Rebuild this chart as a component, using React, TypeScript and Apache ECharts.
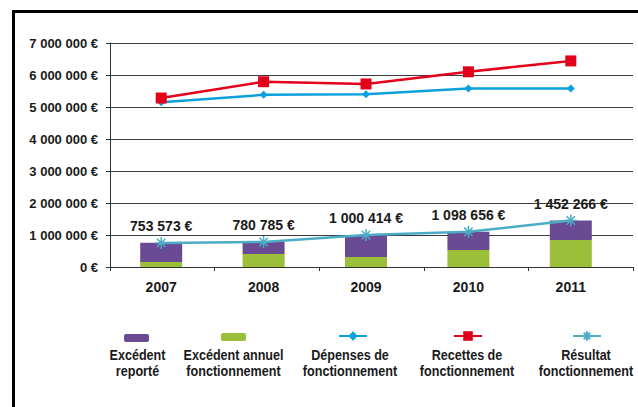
import React, { useEffect, useRef } from "react";
import * as echarts from "echarts";

const categories = ["2007", "2008", "2009", "2010", "2011"];
const excedentReporte = [594000, 371000, 690000, 569000, 612000];
const excedentAnnuel = [160000, 410000, 310000, 530000, 840000];
const depenses = [5150000, 5380000, 5400000, 5580000, 5580000];
const recettes = [5280000, 5790000, 5720000, 6100000, 6440000];
const resultat = [753573, 780785, 1000414, 1098656, 1452266];
const yTicks = [0, 1000000, 2000000, 3000000, 4000000, 5000000, 6000000, 7000000];

const names = {
  rep: "Excédent reporté",
  ann: "Excédent annuel fonctionnement",
  dep: "Dépenses de fonctionnement",
  rec: "Recettes de fonctionnement",
  res: "Résultat fonctionnement",
};
const legendLabels = [
  { name: names.rep, text: "Excédent\nreporté", cx: 137.5, left: 124, top: 334, w: 25, h: 8 },
  { name: names.ann, text: "Excédent annuel\nfonctionnement", cx: 233.5, left: 221, top: 333, w: 25, h: 8 },
  { name: names.dep, text: "Dépenses de\nfonctionnement", cx: 350, left: 338, top: 330, w: 28, h: 12 },
  { name: names.rec, text: "Recettes de\nfonctionnement", cx: 467, left: 453, top: 330, w: 28, h: 12 },
  { name: names.res, text: "Résultat\nfonctionnement", cx: 586, left: 572, top: 330, w: 28, h: 12 },
];

const FONT = "'Liberation Sans', Arial, Helvetica, sans-serif";
const fmt = (v: number) =>
  String(Math.round(v)).replace(/\B(?=(\d{3})+(?!\d))/g, " ") + " €";

const STAR = "path://M0,5L10,5M5,0L5,10M1.5,1.5L8.5,8.5M8.5,1.5L1.5,8.5";

export default function App() {
  const ref = useRef<HTMLDivElement>(null);
  useEffect(() => {
    if (!ref.current) return;
    const chart = echarts.init(ref.current, undefined, { renderer: "svg" });
    const yMax = yTicks[yTicks.length - 1];
    const yStep = yTicks[1] - yTicks[0];
    chart.setOption({
      animation: false,
      backgroundColor: "#fff",
      textStyle: { fontFamily: FONT },
      grid: [
        { left: 110, right: 5, top: 43, bottom: 140 },
        { left: 110, width: 512, top: 43, bottom: 140 },
      ],
      xAxis: [
        {
          gridIndex: 0,
          type: "category",
          data: categories,
          boundaryGap: true,
          axisLine: { lineStyle: { color: "#333", width: 1 } },
          axisTick: { show: true, length: 4, lineStyle: { color: "#333" } },
          axisLabel: { show: false },
        },
        {
          gridIndex: 1,
          type: "category",
          data: categories,
          boundaryGap: true,
          axisLine: { show: false },
          axisTick: { show: false },
          axisLabel: { margin: 13, fontSize: 14, fontWeight: "bold", color: "#1a1a1a", fontFamily: FONT },
        },
      ],
      yAxis: [
        {
          gridIndex: 0,
          type: "value",
          min: 0,
          max: yMax,
          interval: yStep,
          axisLine: { show: true, lineStyle: { color: "#333" } },
          axisTick: { show: true, length: 4, lineStyle: { color: "#333" } },
          axisLabel: {
            margin: 12,
            fontSize: 13,
            fontWeight: "bold",
            color: "#1a1a1a",
            fontFamily: FONT,
            formatter: (v: number) => fmt(v),
          },
          splitLine: { show: true, lineStyle: { color: "#3c3c3c", width: 1 } },
        },
        {
          gridIndex: 1,
          type: "value",
          min: 0,
          max: yMax,
          interval: yStep,
          show: false,
          splitLine: { show: false },
        },
      ],
      legend: legendLabels.map((l) => ({
        data: [l.name],
        left: l.left,
        top: l.top,
        padding: 0,
        itemWidth: l.w,
        itemHeight: l.h,
        itemGap: 0,
        selectedMode: false,
        formatter: () => "",
        textStyle: { fontSize: 1 },
      })),
      graphic: [
        {
          type: "rect",
          silent: true,
          shape: { x: 13.5, y: 11.5, width: 800, height: 600 },
          style: { fill: "none", stroke: "#000", lineWidth: 3 },
        },
        ...legendLabels.map((l) => ({
          type: "text",
          silent: true,
          x: l.cx,
          y: 347,
          scaleX: 0.9,
          style: {
            text: l.text,
            fontSize: 14,
            fontWeight: "bold",
            lineHeight: 16,
            fontFamily: FONT,
            fill: "#1a1a1a",
            align: "center",
            verticalAlign: "top",
          },
        })),
      ],
      series: [
        {
          name: names.ann,
          type: "bar",
          xAxisIndex: 1,
          yAxisIndex: 1,
          stack: "exc",
          barWidth: 42,
          data: excedentAnnuel,
          itemStyle: { color: "#9BBF3A" },
          legendIcon: "rect",
        },
        {
          name: names.rep,
          type: "bar",
          xAxisIndex: 1,
          yAxisIndex: 1,
          stack: "exc",
          barWidth: 42,
          data: excedentReporte,
          itemStyle: { color: "#6B4A94" },
          legendIcon: "rect",
        },
        {
          name: names.dep,
          type: "line",
          xAxisIndex: 1,
          yAxisIndex: 1,
          data: depenses,
          symbol: "diamond",
          symbolSize: 8,
          lineStyle: { color: "#0AA0DC", width: 2.5 },
          itemStyle: { color: "#0AA0DC" },
        },
        {
          name: names.rec,
          type: "line",
          xAxisIndex: 1,
          yAxisIndex: 1,
          data: recettes,
          symbol: "rect",
          symbolSize: 11,
          lineStyle: { color: "#E2001A", width: 2.5 },
          itemStyle: { color: "#E2001A" },
        },
        {
          name: names.res,
          type: "line",
          xAxisIndex: 1,
          yAxisIndex: 1,
          data: resultat,
          symbol: STAR,
          symbolSize: 12,
          z: 5,
          lineStyle: { color: "#4BACC6", width: 2.5 },
          itemStyle: { color: "#4BACC6", borderColor: "#4BACC6", borderWidth: 1.5 },
          label: {
            show: true,
            position: "top",
            distance: 3,
            fontSize: 14,
            fontWeight: "bold",
            color: "#1a1a1a",
            fontFamily: FONT,
            formatter: (p: any) => fmt(p.value),
          },
        },
      ],
    });
    return () => chart.dispose();
  }, []);
  return (
    <div
      ref={ref}
      style={{ position: "fixed", left: 0, top: 0, width: 638, height: 407, background: "#fff" }}
    />
  );
}
